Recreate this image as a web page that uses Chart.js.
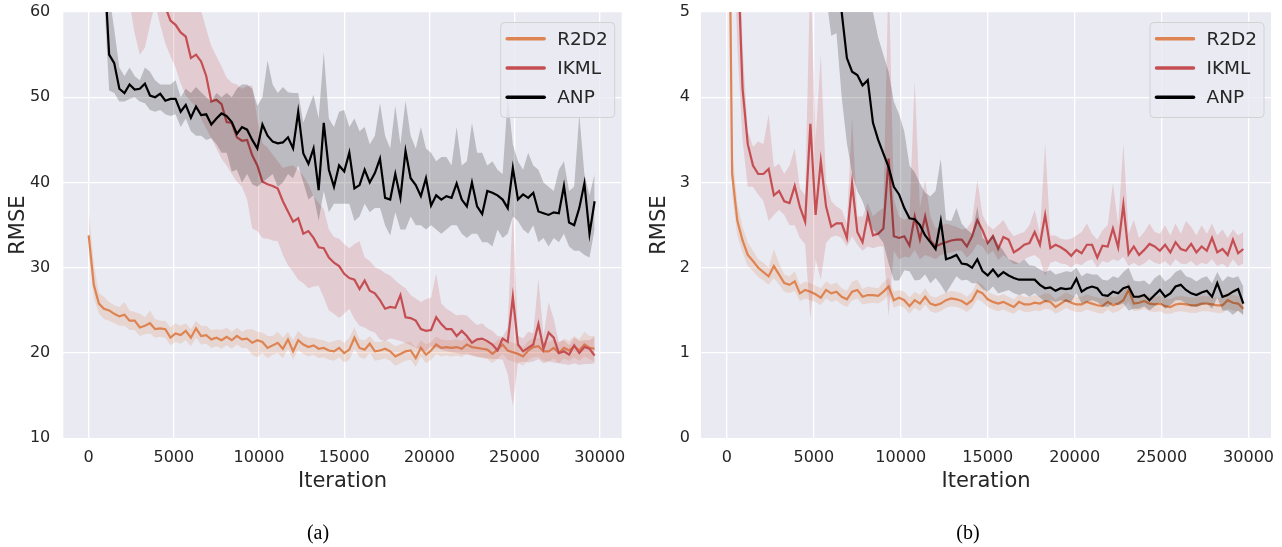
<!DOCTYPE html>
<html>
<head>
<meta charset="utf-8">
<script src="https://cdn.jsdelivr.net/npm/chart.js@4.4.1/dist/chart.umd.min.js"></script>
<style>
html, body { margin: 0; padding: 0; background: #fff; }
body { width: 1282px; height: 547px; position: relative; overflow: hidden; }
canvas { position: absolute; top: 0; }
#graficoA { left: 0; }
#graficoB { left: 640px; }
.rotulo { position: absolute; top: 520px; width: 60px; text-align: center; font-family: 'Liberation Serif', serif; font-size: 20px; line-height: 24px; color: #000; }
</style>
</head>
<body>
<canvas id="graficoA" width="640" height="547"></canvas>
<canvas id="graficoB" width="642" height="547"></canvas>
<div class="rotulo" style="left:288px">(a)</div>
<div class="rotulo" style="left:938px">(b)</div>
<script>
const iteracoes = [
  0, 300, 600, 900, 1200, 1500, 1800, 2100, 2400, 2700,
  3000, 3300, 3600, 3900, 4200, 4500, 4800, 5100, 5400, 5700,
  6000, 6300, 6600, 6900, 7200, 7500, 7800, 8100, 8400, 8700,
  9000, 9300, 9600, 9900, 10200, 10500, 10800, 11100, 11400, 11700,
  12000, 12300, 12600, 12900, 13200, 13500, 13800, 14100, 14400, 14700,
  15000, 15300, 15600, 15900, 16200, 16500, 16800, 17100, 17400, 17700,
  18000, 18300, 18600, 18900, 19200, 19500, 19800, 20100, 20400, 20700,
  21000, 21300, 21600, 21900, 22200, 22500, 22800, 23100, 23400, 23700,
  24000, 24300, 24600, 24900, 25200, 25500, 25800, 26100, 26400, 26700,
  27000, 27300, 27600, 27900, 28200, 28500, 28800, 29100, 29400, 29700
];
const ticksX = [0, 5000, 10000, 15000, 20000, 25000, 30000];
const ticksYA = [10, 20, 30, 40, 50, 60];
const ticksYB = [0, 1, 2, 3, 4, 5];
const nomes = ['R2D2', 'IKML', 'ANP'];

// (a)
const r2d2A = [
  33.8, 28.0, 25.8, 25.2, 25.0, 24.6, 24.3, 24.5, 23.8, 23.8,
  23.0, 23.2, 23.5, 22.8, 22.9, 22.8, 21.8, 22.3, 22.1, 22.6,
  21.8, 22.9, 22.0, 22.1, 21.6, 21.8, 21.5, 21.9, 21.5, 22.0,
  21.6, 21.7, 21.2, 21.5, 21.3, 20.6, 20.9, 21.2, 20.5, 21.6,
  20.2, 21.5, 21.0, 20.7, 20.9, 20.5, 20.6, 20.3, 20.2, 20.6,
  20.0, 20.4, 21.8, 20.6, 20.4, 21.1, 20.2, 20.3, 20.5, 20.2,
  19.6, 19.9, 20.2, 20.3, 19.4, 20.6, 19.8, 20.3, 21.0, 20.6,
  20.7, 20.6, 20.7, 20.5, 21.0, 20.7, 20.6, 20.5, 20.4, 19.9,
  20.4, 21.0, 20.3, 20.1, 19.9, 19.6, 20.3, 20.7, 20.8, 20.2,
  20.2, 20.6, 20.0, 20.6, 20.3, 20.8, 20.3, 21.0, 20.6, 20.5
];
const r2d2AAlto = [
  36.6, 30.5, 27.0, 26.6, 26.0, 25.6, 25.4, 26.0, 25.0, 24.8,
  24.6, 24.2, 25.0, 24.0, 23.8, 23.8, 23.0, 23.5, 23.2, 23.5,
  22.8, 23.8, 23.2, 23.2, 22.7, 22.8, 22.7, 23.0, 22.5, 23.0,
  22.5, 22.8, 22.8, 22.5, 22.4, 22.0, 22.0, 22.5, 21.8, 22.5,
  21.5, 22.6, 22.0, 21.8, 21.8, 21.6, 21.5, 21.2, 21.4, 21.6,
  21.2, 21.8, 23.0, 21.6, 21.5, 22.0, 21.3, 21.3, 21.5, 21.2,
  20.8, 21.0, 21.3, 21.3, 20.6, 21.5, 21.0, 21.3, 21.9, 21.6,
  21.5, 21.5, 21.6, 21.4, 21.9, 21.6, 21.6, 21.5, 21.4, 21.0,
  21.5, 21.8, 21.4, 21.2, 21.0, 20.7, 21.4, 21.7, 21.8, 21.3,
  21.3, 21.6, 21.2, 21.7, 21.4, 22.0, 21.6, 22.5, 22.0, 22.0
];
const r2d2ABaixo = [
  32.0, 26.5, 24.6, 24.0, 23.8, 23.5, 23.2, 23.2, 22.7, 22.7,
  22.0, 22.2, 22.3, 21.8, 21.9, 21.8, 20.9, 21.3, 21.1, 21.5,
  20.8, 21.8, 21.0, 21.1, 20.6, 20.8, 20.5, 20.9, 20.5, 21.0,
  20.6, 20.6, 19.8, 19.5, 20.0, 19.4, 19.8, 20.0, 19.4, 20.5,
  19.2, 20.4, 19.9, 19.6, 19.8, 19.4, 19.5, 19.2, 19.1, 19.5,
  18.9, 19.2, 20.5, 19.5, 19.3, 20.0, 19.1, 19.2, 19.4, 19.1,
  18.5, 18.8, 19.1, 19.2, 18.4, 19.6, 18.8, 19.2, 19.9, 19.6,
  19.7, 19.6, 19.7, 19.5, 20.0, 19.7, 19.5, 19.4, 19.3, 18.8,
  19.3, 19.9, 19.2, 19.0, 18.8, 18.5, 19.2, 19.5, 19.6, 19.1,
  19.0, 19.4, 18.8, 19.4, 19.1, 19.5, 19.1, 19.6, 19.3, 19.0
];
const ikmlA = [
  80, 78, 76.5, 75, 74, 73, 72, 71, 70, 67,
  65, 65.5, 66, 63.5, 62, 60.6, 59.0, 58.5, 57.6, 57.1,
  54.6, 55.0, 54.2, 52.5, 49.5, 49.7, 49.2, 47.1, 47.0, 45.3,
  44.9, 45.0, 43.2, 42.0, 40.1, 39.8, 39.6, 39.3, 37.8, 36.6,
  35.4, 35.8, 34.0, 34.3, 33.5, 32.4, 32.3, 31.2, 30.6, 30.2,
  29.3, 28.8, 28.6, 27.5, 28.5, 27.3, 27.0, 26.2, 25.2, 25.4,
  25.3, 26.8, 24.2, 24.1, 23.8, 22.8, 22.6, 22.7, 24.2, 23.4,
  22.8, 22.8, 22.0, 22.6, 22.0, 21.2, 21.6, 21.7, 21.4, 21.0,
  20.3, 21.7, 21.3, 26.6, 21.0, 20.2, 20.6, 21.0, 23.4, 20.5,
  22.4, 21.8, 20.0, 20.2, 19.8, 20.9, 20.0, 20.7, 20.5, 19.7
];
const ikmlAAlto = [
  90, 88, 87, 86, 85, 84, 83, 82, 81, 79,
  77, 76, 75, 73, 71, 69, 67.5, 66, 65, 64,
  62.5, 61.5, 60.2, 58, 56, 54.8, 53.6, 52.3, 51.7, 51.5,
  51.0, 51.3, 51.4, 47.5, 44.6, 44.1, 43.3, 42.5, 41.7, 41.9,
  42.0, 41.5, 40.8, 39.8, 38.4, 37.6, 36.9, 34.5, 33.6, 33.4,
  32.8, 32.3, 32.8, 33.1, 31.2, 30.8, 30.1, 29.8, 29.4, 29.1,
  28.5, 28.0, 27.6, 26.8, 26.4, 26.0, 26.3, 26.5, 29.3, 25.8,
  25.2, 24.8, 24.4, 24.5, 24.4, 23.8, 23.3, 23.5, 22.9, 22.6,
  22.0, 21.9, 23.0, 37.0, 22.0, 21.7, 22.5, 22.3, 28.7, 22.0,
  26.0, 24.0, 21.3, 21.5, 20.9, 21.8, 21.4, 21.5, 21.5, 21.9
];
const ikmlABaixo = [
  72, 70, 69, 68, 67, 66, 65, 63, 61, 57.5,
  55.0, 55.8, 58.5, 61, 58.5, 56.3, 54.8, 53.5, 51.6, 50.2,
  49.5, 48.9, 47.5, 46.3, 45.2, 44.0, 42.8, 42.0, 41.0, 40.1,
  39.5, 38.0, 34.6, 34.3, 33.5, 33.4, 33.2, 33.1, 31.5, 30.3,
  29.5, 28.6, 28.2, 27.6, 27.8, 27.9, 26.5, 25.0, 24.6, 24.1,
  24.6, 25.2, 24.0, 23.2, 23.0, 22.6, 22.4, 21.6, 21.4, 21.7,
  21.6, 21.4, 21.2, 20.9, 20.6, 20.4, 20.2, 20.8, 20.6, 20.4,
  20.2, 20.1, 20.0, 19.9, 19.8, 19.7, 19.6, 19.5, 19.4, 19.3,
  19.3, 19.2, 17.5, 13.8, 18.9, 19.0, 18.9, 19.0, 19.3, 18.8,
  19.0, 18.9, 18.8, 18.7, 18.6, 18.8, 18.6, 18.7, 18.7, 18.8
];
const anpA = [
  90, 85, 78, 66, 55.0, 54.0, 51.0, 50.5, 51.5, 50.9,
  51.0, 51.6, 50.2, 50.0, 50.4, 49.6, 49.8, 49.8, 48.3, 49.1,
  47.6, 48.9, 47.9, 48.0, 46.8, 47.5, 48.1, 47.8, 47.1, 45.7,
  46.5, 46.2, 45.0, 44.0, 46.8, 45.5, 44.8, 44.6, 44.7, 45.3,
  44.0, 48.3, 43.4, 42.2, 44.0, 39.1, 47.0, 41.5, 39.5, 42.0,
  41.3, 43.5, 39.3, 39.7, 41.5, 40.0, 41.1, 42.8, 38.2, 38.0,
  41.0, 38.2, 43.7, 40.5, 39.7, 38.4, 40.5, 37.3, 38.5, 38.0,
  38.4, 38.2, 39.9, 38.0, 37.2, 40.0, 37.2, 36.3, 39.0, 38.8,
  38.5, 38.0, 37.0, 41.7, 38.0, 38.6, 38.2, 38.8, 36.6, 36.4,
  36.2, 36.5, 36.4, 39.6, 35.3, 35.0, 37.0, 39.9, 34.0, 37.8
];
const anpAAlto = [
  100, 95, 88, 76, 62, 58, 53.5, 52.5, 53.5, 52.5,
  52, 53.5, 53, 52, 51.5, 51.5, 51.5, 52, 50, 51,
  50.5, 51.2, 50.6, 50, 49.5, 50.5, 50, 50.5, 50.0, 51,
  51.5, 51.5, 51.0, 49.0, 50.0, 54.3, 51.5, 50.5, 51.2, 50.6,
  50.5, 50.5, 47, 48.7, 50.3, 47.5, 55.3, 47.5, 46.5, 48.3,
  48.5, 46.5, 47.5, 46.0, 46.5, 44.5, 45.5, 49.3, 45.5, 44.0,
  49.0, 44.5, 49.6, 45.5, 44.0, 46.5, 44.0, 43.5, 42.5, 43.0,
  43.0, 42.0, 46.5, 42.0, 42.5, 47.0, 43.5, 43.5, 42.0, 42.5,
  41.5, 41.0, 50.0, 44.5, 42.5, 41.5, 43.5, 42.0, 41.5, 40.0,
  39.5, 39.0, 41.5, 42.5, 39.0, 39.5, 48.0, 41.0, 38.5, 41.0
];
const anpABaixo = [
  80, 75, 70, 62, 50.8, 50.5, 49.5, 49.5, 49.8, 50.0,
  49.5, 49.3, 48.5, 48.3, 48.5, 48.0, 47.8, 48.0, 46.5, 47.5,
  46.0, 45.5, 45.5, 45.0, 45.2, 44.5, 43.5, 43.5, 41.3, 41.5,
  40.0, 41.0, 39.8, 39.5, 40.0, 40.5, 41.0, 39.5, 40.0, 41.0,
  40.5, 42.0, 40.0, 38.0, 38.5, 35.5, 39.0, 36.5, 37.5, 37.5,
  37.5, 37.5, 35.5, 36.0, 37.5, 36.5, 37.0, 37.0, 35.0, 33.8,
  36.5, 34.5, 34.5, 36.0, 35.0, 35.0, 34.5, 35.0, 34.5, 34.0,
  34.5, 35.0, 35.0, 34.0, 33.5, 34.0, 34.0, 33.0, 33.0, 32.5,
  34.5, 33.5, 34.0, 36.0, 35.5, 34.5, 34.0, 35.0, 33.0, 33.5,
  32.5, 33.5, 33.0, 34.0, 32.5, 32.0, 32.0, 31.5, 31.2, 34.5
];

// (b)
const r2d2B = [
  9.0, 3.1, 2.55, 2.32, 2.15, 2.08, 2.0, 1.95, 1.90, 2.02,
  1.92, 1.82, 1.80, 1.84, 1.70, 1.74, 1.72, 1.69, 1.65, 1.74,
  1.70, 1.72, 1.66, 1.63, 1.72, 1.74, 1.66, 1.68, 1.68, 1.67,
  1.72, 1.78, 1.62, 1.65, 1.62, 1.55, 1.62, 1.58, 1.66, 1.58,
  1.56, 1.58, 1.62, 1.64, 1.63, 1.61, 1.57, 1.62, 1.73, 1.70,
  1.63, 1.60, 1.58, 1.60, 1.57, 1.54, 1.60, 1.57, 1.57, 1.59,
  1.58, 1.61, 1.60, 1.54, 1.58, 1.62, 1.59, 1.57, 1.57, 1.60,
  1.58, 1.56, 1.55, 1.60, 1.56, 1.58, 1.62, 1.74, 1.58, 1.59,
  1.61, 1.58, 1.57, 1.58, 1.55, 1.54, 1.57, 1.58, 1.57, 1.56,
  1.56, 1.58, 1.58, 1.57, 1.56, 1.56, 1.62, 1.59, 1.58, 1.52
];
const r2d2BAlto = [
  10, 3.4, 2.75, 2.48, 2.3, 2.2, 2.1, 2.06, 2.0, 2.22,
  2.05, 1.92, 1.9, 1.96, 1.8, 1.84, 1.82, 1.79, 1.76, 1.84,
  1.8, 1.83, 1.76, 1.73, 1.84, 1.86, 1.75, 1.78, 1.77, 1.76,
  1.83, 1.88, 1.72, 1.74, 1.72, 1.65, 1.72, 1.68, 1.76, 1.67,
  1.65, 1.68, 1.71, 1.73, 1.72, 1.70, 1.66, 1.72, 1.84, 1.80,
  1.72, 1.69, 1.67, 1.69, 1.66, 1.63, 1.69, 1.66, 1.66, 1.68,
  1.67, 1.70, 1.69, 1.63, 1.67, 1.71, 1.68, 1.66, 1.66, 1.69,
  1.67, 1.65, 1.64, 1.69, 1.65, 1.67, 1.72, 1.84, 1.67, 1.68,
  1.70, 1.67, 1.66, 1.67, 1.64, 1.63, 1.66, 1.67, 1.66, 1.65,
  1.65, 1.67, 1.67, 1.66, 1.65, 1.65, 1.71, 1.68, 1.67, 1.61
];
const r2d2BBaixo = [
  8.0, 2.85, 2.38, 2.18, 2.02, 1.96, 1.89, 1.85, 1.80, 1.88,
  1.80, 1.72, 1.70, 1.73, 1.61, 1.64, 1.62, 1.60, 1.56, 1.64,
  1.60, 1.62, 1.57, 1.54, 1.62, 1.64, 1.57, 1.58, 1.59, 1.58,
  1.62, 1.68, 1.53, 1.56, 1.53, 1.46, 1.53, 1.49, 1.57, 1.49,
  1.47, 1.49, 1.53, 1.55, 1.54, 1.52, 1.48, 1.53, 1.63, 1.60,
  1.54, 1.51, 1.49, 1.51, 1.48, 1.46, 1.51, 1.48, 1.48, 1.50,
  1.49, 1.52, 1.51, 1.46, 1.49, 1.53, 1.50, 1.48, 1.48, 1.51,
  1.49, 1.47, 1.46, 1.51, 1.47, 1.49, 1.53, 1.60, 1.49, 1.50,
  1.52, 1.49, 1.48, 1.49, 1.46, 1.46, 1.48, 1.49, 1.48, 1.47,
  1.47, 1.49, 1.49, 1.48, 1.47, 1.47, 1.52, 1.50, 1.49, 1.44
];
const ikmlB = [
  12, 8, 5.8, 4.1, 3.45, 3.2, 3.1, 3.1, 3.16, 2.85,
  2.9, 2.78, 2.76, 2.96, 2.71, 2.54, 3.69, 2.62, 3.25, 2.72,
  2.48, 2.52, 2.52, 2.35, 2.99, 2.42, 2.3, 2.62, 2.38, 2.4,
  2.46, 3.28, 2.37, 2.35, 2.37, 2.26, 2.6, 2.33, 2.6, 2.32,
  2.25, 2.28, 2.3, 2.32, 2.33, 2.33, 2.25, 2.37, 2.56, 2.44,
  2.29, 2.37, 2.22, 2.36, 2.33, 2.18, 2.22, 2.27, 2.29, 2.42,
  2.27, 2.62, 2.23, 2.27, 2.24, 2.2, 2.14, 2.21, 2.17, 2.27,
  2.27, 2.12, 2.26, 2.25, 2.46, 2.24, 2.74, 2.16, 2.25, 2.15,
  2.21, 2.28, 2.25, 2.2, 2.27, 2.18, 2.3, 2.22, 2.2, 2.28,
  2.18, 2.25, 2.2, 2.35, 2.18, 2.22, 2.15, 2.33, 2.17, 2.22
];
const ikmlBAlto = [
  14, 10, 7, 4.6, 3.6, 3.42, 3.48, 3.45, 3.8, 3.18,
  3.22, 3.1, 3.2, 3.4, 2.93, 2.85, 5.5, 3.5, 4.5, 3.0,
  2.78, 2.72, 2.68, 2.52, 3.75, 2.6, 2.6, 2.76, 2.6, 2.66,
  2.7, 5.5, 2.8, 2.6, 2.56, 2.6, 4.2, 2.7, 3.03, 2.6,
  2.46, 2.48, 2.52, 2.5, 2.48, 2.45, 2.46, 2.55, 3.03, 2.62,
  2.5, 2.45, 2.5, 2.56, 2.45, 2.37, 2.4, 2.42, 2.5, 2.68,
  2.4, 3.46, 2.38, 2.38, 2.34, 2.33, 2.34, 2.38, 2.42, 2.52,
  2.4, 2.33, 2.44, 2.5, 2.99, 2.5, 3.46, 2.4, 2.56, 2.35,
  2.42, 2.52, 2.42, 2.4, 2.5, 2.38, 2.52, 2.4, 2.55, 2.48,
  2.38, 2.5, 2.4, 2.52, 2.38, 2.45, 2.35, 2.45, 2.38, 2.42
];
const ikmlBBaixo = [
  10, 6.5, 4.6, 3.5, 2.95, 2.95, 2.86, 2.78, 2.55, 2.62,
  2.68, 2.62, 2.5, 2.5, 2.35, 2.28, 1.4, 2.1, 1.86, 2.29,
  2.36, 2.38, 2.35, 2.25, 2.37, 2.27, 2.2, 2.25, 2.23, 2.25,
  2.25, 1.43, 2.2, 2.1, 2.13, 2.12, 2.21, 2.1, 2.15, 2.13,
  2.1, 2.15, 2.17, 2.18, 2.2, 2.2, 2.12, 2.18, 2.28, 2.25,
  2.15, 2.2, 2.09, 2.15, 2.1, 2.04, 2.05, 2.1, 2.13, 2.15,
  2.1, 1.9, 2.06, 2.08, 2.05, 2.04, 2.0, 2.05, 2.03, 2.08,
  2.1, 2.0, 2.08, 2.06, 2.1, 2.08, 2.13, 2.02, 2.06, 2.02,
  2.05, 2.1, 2.06, 2.04, 2.08, 2.02, 2.1, 2.05, 2.04, 2.08,
  2.02, 2.06, 2.04, 2.1, 2.02, 2.05, 2.0, 2.1, 2.02, 2.05
];
const anpB = [
  20, 19, 18, 17, 16, 15, 14, 13, 12, 11.5,
  11, 10.5, 10, 9.5, 9, 8.5, 8, 7.5, 7, 6.6,
  6.0, 5.5, 5.0, 4.46, 4.3, 4.26, 4.14, 4.2, 3.7, 3.5,
  3.34, 3.18, 2.95, 2.86, 2.7, 2.58, 2.57, 2.5, 2.38, 2.3,
  2.22, 2.55, 2.1, 2.12, 2.15, 2.05, 2.04, 2.0, 2.1, 1.96,
  1.91, 1.98, 1.9, 1.95, 1.91, 1.88, 1.86, 1.86, 1.86, 1.86,
  1.80, 1.76, 1.77, 1.73, 1.76, 1.75, 1.76, 1.87, 1.72, 1.76,
  1.78, 1.76, 1.68, 1.67, 1.72, 1.70, 1.76, 1.78, 1.66, 1.66,
  1.68, 1.62, 1.68, 1.74, 1.66, 1.70, 1.78, 1.8, 1.74, 1.70,
  1.68, 1.71, 1.73, 1.66, 1.82, 1.66, 1.68, 1.72, 1.75, 1.58
];
const anpBAlto = [
  25, 24, 23, 22, 21, 20, 19, 18, 17, 16,
  15, 14, 13, 12, 11, 10.5, 10, 9.5, 9, 8.5,
  8, 7.5, 7, 6.5, 6.2, 6.0, 5.7, 5.4, 5.0, 4.7,
  4.5, 4.3, 3.95, 3.8, 3.6, 3.2, 3.12, 2.99, 2.88, 2.84,
  2.9, 3.28, 2.56, 2.55, 2.7, 2.52, 2.45, 2.4, 2.72, 2.35,
  2.3, 2.4, 2.28, 2.2, 2.1, 2.08, 2.05, 2.1, 2.03, 2.02,
  1.98, 1.95, 1.97, 1.92, 1.94, 1.96, 1.95, 2.0, 1.9, 1.94,
  1.92, 1.92, 1.86, 1.85, 1.9, 1.88, 1.95, 2.0, 1.85, 1.84,
  1.85, 1.8, 1.88, 1.92, 1.84, 1.88, 1.95, 1.98, 1.9, 1.88,
  1.84, 1.88, 1.9, 1.82, 1.95, 1.84, 1.9, 1.88, 1.9, 1.78
];
const anpBBaixo = [
  15, 14.5, 14, 13.5, 13, 12.5, 12, 11.5, 11, 10.5,
  10, 9.5, 9, 8.5, 8, 7.5, 7, 6.5, 6, 5.2,
  4.72, 4.75, 4.0, 3.46, 3.1, 2.9, 2.78, 2.6, 2.45, 2.38,
  2.29, 2.05, 1.85, 1.85, 1.97, 1.96, 1.85, 1.86, 1.92, 1.82,
  1.88, 1.8, 1.7, 1.8, 1.9, 1.85, 1.86, 1.82, 1.82, 1.75,
  1.72, 1.78, 1.7, 1.72, 1.74, 1.7, 1.68, 1.7, 1.66, 1.7,
  1.65, 1.6, 1.62, 1.6, 1.62, 1.6, 1.6, 1.7, 1.58, 1.6,
  1.62, 1.6, 1.55, 1.54, 1.58, 1.56, 1.58, 1.5, 1.52, 1.52,
  1.55, 1.5, 1.55, 1.6, 1.52, 1.56, 1.62, 1.62, 1.58, 1.55,
  1.54, 1.56, 1.58, 1.52, 1.65, 1.5, 1.5, 1.45, 1.5, 1.45
];

const cores = ['#dd8452', '#c44e52', '#000000'];
const coresFaixa = ['rgba(221,132,82,0.2)', 'rgba(196,78,82,0.2)', 'rgba(0,0,0,0.2)'];
const corTexto = '#262626';
const fonte = "'DejaVu Sans', sans-serif";

function pontos(valores) {
  return iteracoes.map((x, i) => ({ x: x, y: valores[i] }));
}

// cada serie: [media, baixo, alto]; R2D2 fica por baixo, ANP por cima
function montarDatasets(series) {
  const ds = [];
  series.forEach((s, k) => {
    const ordem = (3 - k) * 2;
    ds.push({ label: nomes[k], data: pontos(s[0]), borderColor: cores[k], borderWidth: 2.2, fill: false, order: ordem - 1 });
    ds.push({ label: '', data: pontos(s[2]), borderColor: 'rgba(0,0,0,0)', borderWidth: 0, backgroundColor: coresFaixa[k], fill: '+1', order: ordem });
    ds.push({ label: '', data: pontos(s[1]), borderColor: 'rgba(0,0,0,0)', borderWidth: 0, fill: false, order: ordem });
  });
  return ds;
}

const fundoPlugin = {
  id: 'fundo',
  beforeDraw(chart) {
    const { ctx, chartArea: a } = chart;
    ctx.save();
    ctx.fillStyle = '#eaeaf2';
    ctx.fillRect(a.left, a.top, a.right - a.left, a.bottom - a.top);
    ctx.restore();
  }
};

const legendaPlugin = {
  id: 'legendaInterna',
  afterDraw(chart, args, opts) {
    const { ctx, chartArea: a } = chart;
    const w = 114, h = 95;
    const x0 = a.right - opts.direita - w, y0 = a.top + 10.5;
    ctx.save();
    ctx.beginPath();
    ctx.roundRect(x0, y0, w, h, 4);
    ctx.fillStyle = 'rgba(234,234,242,0.8)';
    ctx.fill();
    ctx.strokeStyle = '#d2d2d2';
    ctx.lineWidth = 1;
    ctx.stroke();
    chart.data.datasets.filter(d => d.label).forEach((d, i) => {
      const y = y0 + 16.2 + i * 29.3;
      ctx.beginPath();
      ctx.moveTo(x0 + 6.5, y);
      ctx.lineTo(x0 + 43.5, y);
      ctx.strokeStyle = d.borderColor;
      ctx.lineWidth = 3.5;
      ctx.lineCap = 'round';
      ctx.stroke();
      ctx.fillStyle = corTexto;
      ctx.font = '18.5px ' + fonte;
      ctx.textBaseline = 'middle';
      ctx.fillText(d.label, x0 + 56.5, y + 1);
    });
    ctx.restore();
  }
};

function opcoes(cfg) {
  return {
    responsive: false,
    animation: false,
    layout: { padding: { left: 0, right: cfg.direita, top: 12, bottom: 48.7 } },
    elements: { point: { radius: 0 }, line: { tension: 0 } },
    plugins: {
      legend: { display: false },
      tooltip: { enabled: false },
      legendaInterna: { direita: cfg.legendaDireita }
    },
    scales: {
      x: {
        type: 'linear', min: -1490, max: 31290,
        grid: { color: '#ffffff', lineWidth: 1.3, drawTicks: false },
        border: { display: false },
        ticks: { color: corTexto, font: { size: 16, family: fonte }, padding: 10, maxRotation: 0, callback: v => String(v) },
        title: { display: true, text: 'Iteration', color: corTexto, font: { size: 21, family: fonte }, padding: { top: 0, bottom: 4 } },
        afterBuildTicks: s => { s.ticks = ticksX.map(v => ({ value: v })); },
        afterFit: s => { s.height = 60; s.paddingLeft = 0; s.paddingRight = 0; }
      },
      y: {
        min: cfg.yMin, max: cfg.yMax,
        grid: { color: '#ffffff', lineWidth: 1.3, drawTicks: false },
        border: { display: false },
        ticks: { color: corTexto, font: { size: 16, family: fonte }, padding: cfg.padTick, callback: v => String(v) },
        title: { display: true, text: 'RMSE', color: corTexto, font: { size: 21, family: fonte }, padding: { top: cfg.padTitulo, bottom: 0 } },
        afterBuildTicks: s => { s.ticks = cfg.ticksY.map(v => ({ value: v })); },
        afterFit: s => { s.width = cfg.larguraY; s.paddingTop = 0; s.paddingBottom = 0; }
      }
    }
  };
}

new Chart(document.getElementById('graficoA'), {
  type: 'line',
  data: { datasets: montarDatasets([[r2d2A, r2d2ABaixo, r2d2AAlto], [ikmlA, ikmlABaixo, ikmlAAlto], [anpA, anpABaixo, anpAAlto]]) },
  options: opcoes({ yMin: 10, yMax: 60, ticksY: ticksYA, larguraY: 63.3, direita: 18.3, padTick: 13, padTitulo: 6, legendaDireita: 7 }),
  plugins: [fundoPlugin, legendaPlugin]
});

new Chart(document.getElementById('graficoB'), {
  type: 'line',
  data: { datasets: montarDatasets([[r2d2B, r2d2BBaixo, r2d2BAlto], [ikmlB, ikmlBBaixo, ikmlBAlto], [anpB, anpBBaixo, anpBAlto]]) },
  options: opcoes({ yMin: 0, yMax: 5, ticksY: ticksYB, larguraY: 61, direita: 11, padTick: 11, padTitulo: 6.5, legendaDireita: 7 }),
  plugins: [fundoPlugin, legendaPlugin]
});
</script>
</body>
</html>
